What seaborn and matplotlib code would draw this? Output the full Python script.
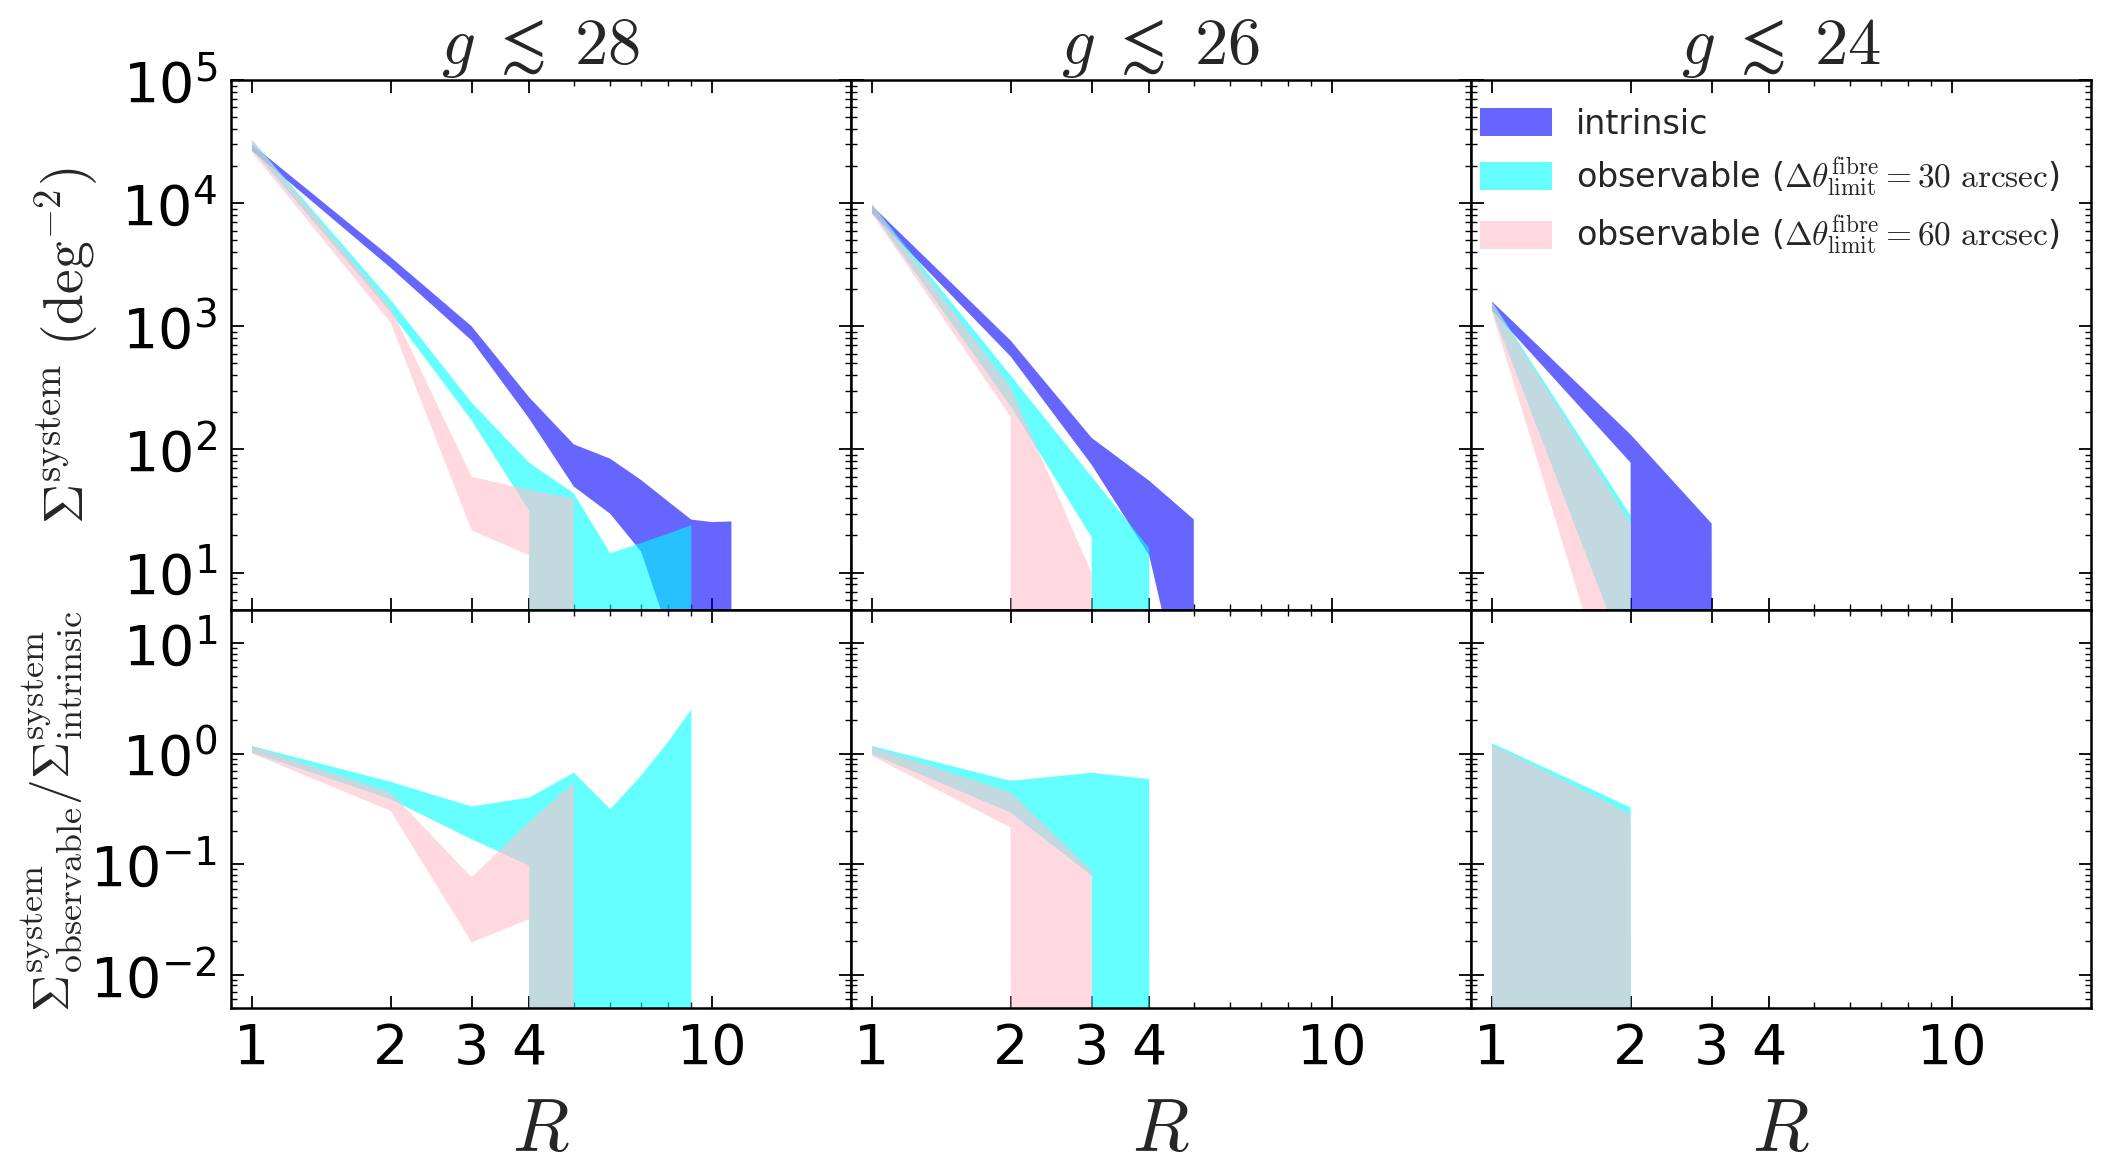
import numpy as np
import matplotlib
matplotlib.use("Agg")
import matplotlib.pyplot as plt
import seaborn as sns
from matplotlib.ticker import FixedLocator, FixedFormatter, LogLocator, NullFormatter


# richness R = 1, 2, 3, ... (each series starts at R=1)
R = np.arange(1, 12)

cuts = ["28", "26", "24"]
x_ticks = [1, 2, 3, 4, 10]
x_ticklabels = ["1", "2", "3", "4", "10"]

# surface density of systems (deg^-2): upper / lower edges of each band
intr_hi_28 = [30000, 3650, 1000, 265, 110, 84, 56.5, 38, 26.9, 25.7, 26]
intr_lo_28 = [26700, 2990, 767, 178, 50, 30, 14.8, 3.4, 0, 0, 0]
obs30_hi_28 = [32600, 1640, 240, 78, 44, 14.3, 17.4, 20.6, 24.3, 0]
obs30_lo_28 = [27500, 1300, 172, 31.6, 0, 0, 0, 0, 0, 0]
obs60_hi_28 = [33000, 1440, 60, 47, 40, 0]
obs60_lo_28 = [26000, 1070, 22, 13.8, 0, 0]

intr_hi_26 = [9550, 767, 124, 55.7, 27, 0]
intr_lo_26 = [8300, 569, 75, 13.8, 0.38, 0]
obs30_hi_26 = [9800, 400, 60, 15.8, 0]
obs30_lo_26 = [8500, 225, 19.3, 0, 0]
obs60_hi_26 = [9900, 320, 9.9, 0]
obs60_lo_26 = [8200, 184, 0, 0]

intr_hi_24 = [1590, 132, 25, 0]
intr_lo_24 = [1350, 78, 0, 0]
obs30_hi_24 = [1600, 29, 0]
obs30_lo_24 = [1350, 1.6, 0]
obs60_hi_24 = [1580, 25, 0]
obs60_lo_24 = [1300, 0.27, 0]

# ratio observable / intrinsic
rat30_hi_28 = [1.17, 0.555, 0.332, 0.40, 0.67, 0.314, 0.63, 1.26, 2.5, 0]
rat30_lo_28 = [1.02, 0.386, 0.168, 0.097, 0, 0, 0, 0, 0, 0]
rat60_hi_28 = [1.17, 0.445, 0.076, 0.24, 0.547, 0]
rat60_lo_28 = [1.0, 0.303, 0.0196, 0.0318, 0, 0]

rat30_hi_26 = [1.17, 0.566, 0.67, 0.586, 0]
rat30_lo_26 = [0.99, 0.293, 0.0785, 0, 0]
rat60_hi_26 = [1.15, 0.445, 0.087, 0]
rat60_lo_26 = [0.95, 0.214, 0, 0]

rat30_hi_24 = [1.24, 0.325, 0]
rat30_lo_24 = [0, 0, 0]
rat60_hi_24 = [1.2, 0.283, 0]
rat60_lo_24 = [0, 0, 0]

top_data = [
    [(intr_hi_28, intr_lo_28), (obs30_hi_28, obs30_lo_28), (obs60_hi_28, obs60_lo_28)],
    [(intr_hi_26, intr_lo_26), (obs30_hi_26, obs30_lo_26), (obs60_hi_26, obs60_lo_26)],
    [(intr_hi_24, intr_lo_24), (obs30_hi_24, obs30_lo_24), (obs60_hi_24, obs60_lo_24)],
]
bottom_data = [
    [(rat30_hi_28, rat30_lo_28), (rat60_hi_28, rat60_lo_28)],
    [(rat30_hi_26, rat30_lo_26), (rat60_hi_26, rat60_lo_26)],
    [(rat30_hi_24, rat30_lo_24), (rat60_hi_24, rat60_lo_24)],
]

labels = ["intrinsic",
          r"observable ($\Delta\theta_{\rm limit}^{\rm fibre}=30\ {\rm arcsec}$)",
          r"observable ($\Delta\theta_{\rm limit}^{\rm fibre}=60\ {\rm arcsec}$)"]
colors = ["blue", "cyan", "pink"]

sns.set_style("ticks")
plt.rcParams.update({
    "font.family": "DejaVu Sans",
    "mathtext.fontset": "cm",
    "axes.edgecolor": "black",
    "axes.linewidth": 1.8,
    "xtick.color": "black", "ytick.color": "black",
    "xtick.direction": "in", "ytick.direction": "in",
    "xtick.top": True, "ytick.right": True,
    "xtick.bottom": True, "ytick.left": True,
    "xtick.major.size": 9, "ytick.major.size": 9,
    "xtick.minor.size": 4.5, "ytick.minor.size": 4.5,
    "xtick.major.width": 1.3, "ytick.major.width": 1.3,
    "xtick.minor.width": 1.0, "ytick.minor.width": 1.0,
    "xtick.major.pad": 10, "ytick.major.pad": 10,
    "xtick.labelsize": 40, "ytick.labelsize": 40,
})


def band(ax, hi, lo, color, label=None):
    x = R[:len(hi)]
    ax.fill_between(x, lo, hi, color=color, alpha=0.6, lw=0, label=label)


fig, axes = plt.subplots(2, 3, figsize=(21.07, 11.75), dpi=100, sharex=True, sharey="row",
                         gridspec_kw={"height_ratios": [529, 398]})
fig.subplots_adjust(left=0.1096, right=0.9924, top=0.9319, bottom=0.1421, hspace=0, wspace=0)

for j in range(3):
    ax = axes[0, j]
    for (hi, lo), c, lab in zip(top_data[j], colors, labels):
        band(ax, hi, lo, c, lab)
    ax.set_title(r"$g\;\lesssim\;%s$" % cuts[j], fontsize=48, pad=9)

    ax = axes[1, j]
    for (hi, lo), c in zip(bottom_data[j], colors[1:]):
        band(ax, hi, lo, c)
    ax.set_xlabel(r"$R$", fontsize=53, labelpad=12)

for ax in axes.flat:
    ax.set_xscale("log")
    ax.set_yscale("log")
    ax.set_xlim(0.9, 20)
    ax.xaxis.set_major_locator(FixedLocator(x_ticks))
    ax.xaxis.set_major_formatter(FixedFormatter(x_ticklabels))
    ax.xaxis.set_minor_locator(LogLocator(base=10, subs=np.arange(2, 10)))
    ax.xaxis.set_minor_formatter(NullFormatter())
    ax.yaxis.set_major_locator(LogLocator(base=10, subs=(1.0,), numticks=30))
    ax.yaxis.set_minor_locator(LogLocator(base=10, subs=np.arange(2, 10), numticks=30))
    ax.yaxis.set_minor_formatter(NullFormatter())
    ax.tick_params(which="both", top=True, right=True, direction="in")

axes[0, 0].set_ylim(5, 1.001e5)
axes[1, 0].set_ylim(5e-3, 20)

fig.text(0.0318, 0.706, r"$\Sigma^{\rm system}\ ({\rm deg}^{-2})$", rotation=90,
         ha="center", va="center", fontsize=40)
fig.text(0.0247, 0.31,
         r"$\Sigma^{\rm system}_{\rm observable}/\Sigma^{\rm system}_{\rm intrinsic}$",
         rotation=90, ha="center", va="center", fontsize=37)

axes[0, 2].legend(loc="upper right", bbox_to_anchor=(0.95, 0.948), frameon=False,
                  fontsize=24, borderpad=0, borderaxespad=0, handlelength=2.16,
                  handleheight=0.9, handletextpad=0.72, labelspacing=0.45)

plt.savefig("out.png", dpi=100)
